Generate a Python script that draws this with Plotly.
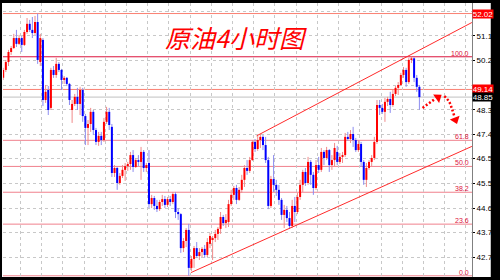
import plotly.graph_objects as go

# ---------------- data ----------------
bar_open = [49.58, 49.88, 50.18, 50.56, 50.71, 51.09, 50.87, 51.09, 50.83, 51.32,
            51.63, 51.40, 51.28, 51.70, 50.18, 51.02, 48.74, 49.12, 48.44, 49.88,
            49.69, 50.11, 49.88, 49.50, 49.58, 49.35, 48.36, 48.59, 48.86, 48.59,
            49.12, 48.13, 47.68, 47.83, 48.29, 47.60, 47.15, 47.38, 47.22, 47.91,
            48.29, 47.72, 45.97, 46.16, 45.59, 45.86, 46.09, 46.23, 46.31, 46.65,
            46.20, 46.46, 46.39, 46.77, 46.16, 46.35, 44.79, 45.02, 44.72, 44.60,
            44.87, 44.98, 44.76, 44.98, 44.87, 45.17, 44.49, 44.41, 43.12, 43.39,
            43.81, 42.37, 42.71, 43.12, 42.82, 42.97, 43.09, 42.86, 43.28, 43.43,
            43.50, 43.66, 43.85, 44.30, 44.07, 44.11, 44.79, 45.14, 45.40, 44.95,
            45.33, 45.71, 46.16, 46.05, 46.46, 47.15, 46.88, 47.22, 47.34, 47.03,
            46.46, 44.72, 45.74, 45.52, 45.33, 44.95, 44.38, 44.57, 44.26, 43.96,
            44.72, 44.49, 45.06, 45.52, 46.01, 45.59, 46.39, 45.90, 45.40, 46.27,
            46.09, 46.77, 46.54, 46.84, 46.27, 46.46, 46.77, 46.39, 46.58, 46.65,
            47.34, 47.26, 47.45, 47.22, 46.84, 47.07, 46.39, 45.71, 46.16, 46.39,
            46.54, 47.15, 48.55, 48.44, 48.29, 48.67, 48.78, 48.55, 48.97, 49.20,
            49.31, 49.69, 49.88, 49.42, 50.26, 50.32, 49.58, 49.24]
bar_high = [49.96, 50.26, 50.64, 50.79, 51.25, 51.40, 51.21, 51.17, 51.40, 51.85,
            51.78, 51.89, 51.93, 52.02, 51.25, 51.09, 49.31, 49.27, 49.96, 50.03,
            50.34, 50.18, 49.92, 49.65, 49.61, 49.39, 48.74, 48.97, 49.20, 49.24,
            49.20, 48.21, 47.98, 48.44, 48.36, 47.68, 47.53, 47.53, 48.06, 48.48,
            48.44, 47.83, 46.27, 46.20, 45.97, 46.27, 46.35, 46.39, 46.77, 46.84,
            46.54, 46.65, 46.96, 46.84, 46.35, 46.84, 45.14, 45.10, 44.95, 44.95,
            45.14, 45.10, 45.06, 45.10, 45.25, 45.25, 44.64, 44.45, 43.50, 43.88,
            44.04, 42.82, 43.20, 43.35, 43.12, 43.16, 43.24, 43.50, 43.69, 43.58,
            43.81, 43.92, 44.49, 44.38, 44.41, 44.95, 45.33, 45.48, 45.52, 45.44,
            45.90, 46.27, 46.46, 46.58, 47.22, 47.26, 47.38, 47.45, 47.41, 47.34,
            46.58, 45.86, 46.65, 45.71, 45.52, 45.02, 44.76, 44.72, 44.49, 44.95,
            45.06, 45.21, 45.71, 46.09, 46.16, 46.58, 46.46, 46.01, 46.46, 46.58,
            46.92, 46.84, 46.96, 46.88, 46.65, 47.11, 47.00, 46.73, 46.77, 47.49,
            47.53, 47.60, 47.72, 47.30, 47.22, 47.15, 46.46, 46.35, 46.46, 46.65,
            47.34, 48.74, 48.74, 48.59, 48.82, 48.86, 49.05, 49.12, 49.27, 49.42,
            49.77, 49.99, 49.96, 50.33, 50.38, 50.36, 49.69, 49.31]
bar_low = [49.50, 49.80, 50.03, 50.45, 50.68, 50.75, 50.83, 50.56, 50.79, 51.25,
           51.32, 51.09, 51.21, 50.11, 50.03, 48.51, 48.63, 48.17, 48.36, 49.58,
           49.58, 49.80, 49.12, 49.35, 49.27, 48.55, 47.87, 48.51, 48.36, 48.17,
           47.91, 47.03, 47.03, 47.53, 47.41, 47.03, 47.00, 47.03, 47.15, 47.83,
           47.60, 45.82, 45.82, 45.33, 45.52, 45.78, 45.67, 46.05, 46.09, 46.01,
           46.16, 46.23, 45.71, 46.01, 46.01, 44.64, 44.64, 44.57, 44.49, 44.53,
           44.72, 44.64, 44.68, 44.72, 44.79, 44.26, 44.19, 42.94, 42.97, 43.16,
           42.07, 42.25, 42.37, 42.75, 42.67, 42.78, 42.75, 42.78, 43.12, 42.67,
           43.35, 43.43, 43.66, 43.96, 43.88, 43.92, 44.72, 44.95, 44.79, 44.91,
           45.21, 45.44, 45.90, 45.97, 46.43, 46.77, 46.81, 46.92, 46.84, 46.35,
           44.60, 44.64, 45.25, 45.10, 44.76, 44.19, 43.88, 44.11, 43.85, 43.88,
           44.11, 44.41, 44.95, 45.25, 45.48, 45.52, 45.52, 45.14, 45.33, 45.97,
           46.01, 46.27, 46.46, 46.01, 46.09, 46.20, 46.27, 46.31, 46.35, 46.58,
           47.19, 47.11, 46.96, 46.77, 46.77, 46.20, 45.52, 45.44, 46.09, 46.23,
           46.46, 47.07, 48.17, 48.21, 47.91, 48.51, 48.25, 48.48, 48.89, 48.93,
           49.27, 49.58, 49.24, 49.35, 50.14, 49.42, 49.05, 48.37]
bar_close = [49.88, 50.18, 50.56, 50.71, 51.09, 50.87, 51.09, 50.83, 51.32, 51.63,
             51.40, 51.28, 51.70, 50.26, 51.09, 48.74, 49.05, 48.36, 49.88, 49.69,
             50.11, 49.88, 49.50, 49.58, 49.35, 48.74, 48.59, 48.86, 48.59, 49.12,
             48.13, 47.68, 47.83, 48.29, 47.60, 47.15, 47.38, 47.22, 47.91, 48.29,
             47.79, 45.97, 46.16, 45.59, 45.86, 46.09, 46.23, 46.31, 46.65, 46.20,
             46.46, 46.39, 46.77, 46.16, 46.27, 44.79, 45.02, 44.72, 44.60, 44.87,
             44.98, 44.76, 44.98, 44.87, 45.17, 44.49, 44.41, 43.12, 43.39, 43.81,
             42.37, 42.71, 43.12, 42.82, 42.97, 43.09, 42.86, 43.35, 43.58, 43.50,
             43.66, 43.85, 44.30, 44.07, 44.19, 44.79, 45.14, 45.40, 44.95, 45.33,
             45.71, 46.16, 46.05, 46.46, 47.15, 46.88, 47.22, 47.34, 47.03, 46.46,
             44.72, 45.74, 45.52, 45.33, 44.95, 44.38, 44.57, 44.26, 43.96, 44.72,
             44.49, 45.06, 45.52, 46.01, 45.59, 46.39, 45.90, 45.40, 46.27, 46.09,
             46.77, 46.54, 46.84, 46.27, 46.46, 46.92, 46.39, 46.58, 46.65, 47.34,
             47.26, 47.45, 47.22, 46.84, 47.07, 46.39, 45.71, 46.16, 46.39, 46.54,
             47.15, 48.55, 48.44, 48.29, 48.67, 48.78, 48.55, 48.97, 49.20, 49.31,
             49.69, 49.88, 49.42, 50.26, 50.32, 49.58, 49.24, 48.85]

fib_levels = [50.38, 47.21, 46.22, 45.24, 44.03, 42.07]
fib_labels = ["100.0", "61.8", "50.0", "38.2", "23.6", "0.0"]

marker_levels = [52.02, 49.14, 48.85]
marker_labels = ["52.02", "49.14", "48.85"]

# grid levels of the price scale; labels at 49.30 and 52.10 are hidden behind the price boxes
tick_vals = [42.77, 43.72, 44.64, 45.57, 46.52, 47.44, 48.37, 49.30, 50.24, 51.17, 52.10]
tick_text = ["42.77", "43.72", "44.64", "45.57", "46.52", "47.44", "48.37", "", "50.24", "51.17", ""]

upper_channel_x = [95.6, 176.8]
upper_channel_y = [47.38, 51.68]
lower_channel_x = [70.8, 176.8]
lower_channel_y = [42.19, 46.98]

arrow_up_x = [158.2, 162.6]
arrow_up_y = [48.44, 48.76]
arrow_down_x = [166.4, 168.2, 169.3, 170.2]
arrow_down_y = [48.89, 48.68, 48.40, 48.12]
arrow_head_x = [164.0, 170.6]
arrow_head_y = [48.84, 47.99]

title_text = "原油4小时图"

# ---------------- build figure ----------------
n = len(bar_open)
idx = list(range(n))

def segments(sel, a, b):
    xs, ys = [], []
    for i in idx:
        if sel(i):
            xs += [i, i, None]
            ys += [a[i], b[i], None]
    return xs, ys

is_bull = lambda i: bar_close[i] >= bar_open[i]
is_bear = lambda i: bar_close[i] < bar_open[i]

fig = go.Figure()

wx, wy = segments(is_bull, bar_low, bar_high)
fig.add_trace(go.Scatter(x=wx, y=wy, mode="lines", line=dict(color="#f08a8a", width=1), hoverinfo="skip"))
wx, wy = segments(is_bear, bar_low, bar_high)
fig.add_trace(go.Scatter(x=wx, y=wy, mode="lines", line=dict(color="#8c8cf0", width=1), hoverinfo="skip"))
bx, by = segments(is_bull, bar_open, bar_close)
fig.add_trace(go.Scatter(x=bx, y=by, mode="lines", line=dict(color="#ff0000", width=2), hoverinfo="skip"))
bx, by = segments(is_bear, bar_open, bar_close)
fig.add_trace(go.Scatter(x=bx, y=by, mode="lines", line=dict(color="#0000ff", width=2), hoverinfo="skip"))

# channel lines
fig.add_trace(go.Scatter(x=upper_channel_x, y=upper_channel_y, mode="lines",
                         line=dict(color="#ff2a2a", width=1), hoverinfo="skip"))
fig.add_trace(go.Scatter(x=lower_channel_x, y=lower_channel_y, mode="lines",
                         line=dict(color="#ff2a2a", width=1), hoverinfo="skip"))

# dotted arrow
fig.add_trace(go.Scatter(x=arrow_up_x, y=arrow_up_y, mode="lines",
                         line=dict(color="#ff0000", width=2.5, dash="2px,2px"), hoverinfo="skip"))
fig.add_trace(go.Scatter(x=arrow_down_x, y=arrow_down_y, mode="lines",
                         line=dict(color="#ff0000", width=2.5, dash="2px,2px", shape="spline"), hoverinfo="skip"))
fig.add_trace(go.Scatter(x=arrow_head_x, y=arrow_head_y, mode="markers",
                         marker=dict(symbol="triangle-up", size=9, color="#ff0000", angle=[55, 160],
                                     line=dict(width=0)), hoverinfo="skip"))

shapes = []
# fib lines
for k, lv in enumerate(fib_levels):
    shapes.append(dict(type="line", xref="paper", x0=0, x1=1, yref="y", y0=lv, y1=lv,
                       line=dict(color="#dc143c" if k == 0 else "#f0808c", width=1), layer="below"))
# marker price lines
marker_line_colors = ["#fa8072", "#fa8072", "#c0c0c0"]
for lv, c in zip(marker_levels, marker_line_colors):
    shapes.append(dict(type="line", xref="paper", x0=0, x1=1, yref="y", y0=lv, y1=lv,
                       line=dict(color=c, width=1), layer="below"))

# black frame around the picture
frame = dict(type="rect", xref="paper", yref="paper", fillcolor="black", line=dict(width=0), layer="above")
shapes.append(dict(frame, x0=-0.02, x1=1.06, y0=1.0, y1=1.03))
shapes.append(dict(frame, x0=-0.02, x1=1.06, y0=-0.03, y1=0.0))
shapes.append(dict(frame, x0=-0.02, x1=-0.0021, y0=-0.03, y1=1.03))
shapes.append(dict(frame, x0=1.04, x1=1.06, y0=-0.03, y1=1.03))

annotations = []
for lv, lab in zip(fib_levels, fib_labels):
    annotations.append(dict(xref="paper", x=0.9958, xanchor="right", yref="y", y=lv, yanchor="bottom",
                            text=lab, showarrow=False, font=dict(size=7, color="#dc143c", family="Liberation Sans"),
                            borderpad=0, yshift=-1))
marker_bg = ["#ff0000", "#ff0000", "#000000"]
for lv, lab, bg in zip(marker_levels, marker_labels, marker_bg):
    annotations.append(dict(xref="paper", x=1.0, xanchor="left", yref="y", y=lv, yanchor="middle",
                            text=lab, showarrow=False, bgcolor=bg, width=20, height=8, borderpad=0,
                            font=dict(size=8, color="white", family="Liberation Sans")))
annotations.append(dict(xref="paper", yref="paper", x=0.497, y=0.876, xanchor="center", yanchor="middle",
                        text="<i>" + title_text + "</i>", showarrow=False,
                        font=dict(size=25, color="#ff0000", family="Noto Sans CJK SC")))

grid_x = [6.52 + 8 * k for k in range(22)]

fig.update_layout(
    width=500, height=280,
    margin=dict(l=3, r=22, t=3, b=3),
    paper_bgcolor="white", plot_bgcolor="white",
    showlegend=False,
    shapes=shapes, annotations=annotations,
    xaxis=dict(range=[-0.07, 176.84], tickvals=grid_x, showticklabels=False, ticks="",
               showgrid=True, gridcolor="#c8c8c8", griddash="3px,3px", gridwidth=1,
               zeroline=False, showline=False, fixedrange=True),
    yaxis=dict(range=[42.024, 52.42], side="right", tickvals=tick_vals, ticktext=tick_text,
               tickfont=dict(size=8, color="black", family="Liberation Sans"),
               ticks="outside", ticklen=2, tickcolor="black",
               showgrid=True, gridcolor="#c8c8c8", griddash="3px,3px", gridwidth=1,
               showline=True, linecolor="#808080", linewidth=1, zeroline=False, fixedrange=True),
)

fig.write_html("out.html")
